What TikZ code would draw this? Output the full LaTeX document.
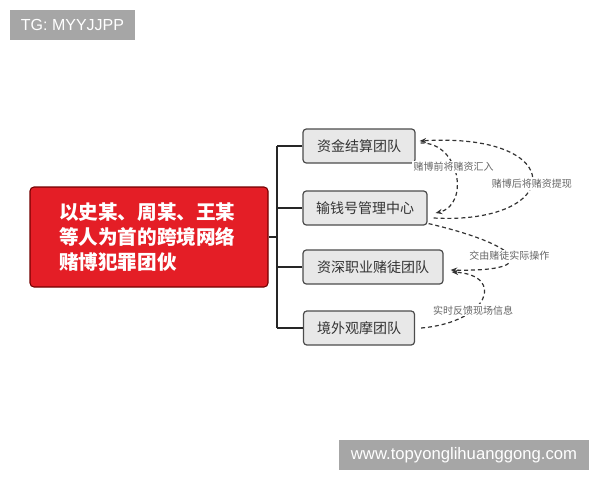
\documentclass[tikz,border=0pt]{standalone}
\usepackage{fontspec}
\setmainfont{Liberation Sans}
\newfontfamily\cjk{Noto Sans CJK SC}
\usetikzlibrary{arrows.meta}
\definecolor{gangred}{RGB}{228,30,38}

\begin{document}
\begin{tikzpicture}[x=0.75pt, y=-0.75pt,
  wmbox/.style={fill=black!35, text=white, inner sep=0pt, minimum height=22.5pt},
  gang/.style={draw=red!45!black, fill=gangred, rounded corners=3pt, line width=0.8pt, inner sep=0pt, text=white, font=\cjk\bfseries\fontsize{14.7}{18.75}\selectfont},
  team/.style={draw=black!70, fill=black!9, rounded corners=2.5pt, line width=0.9pt, inner sep=0pt, minimum height=25.5pt, text=black!80, font=\cjk\fontsize{10.5}{12}\selectfont},
  trunk/.style={draw=black!85, line width=1.9pt},
  flow/.style={draw=black!80, dash pattern=on 3pt off 2.2pt, line width=0.9pt, -{Stealth[length=5pt,width=4pt]}},
  note/.style={fill=white, inner sep=1pt, text=black!60, font=\cjk\fontsize{7.5}{9}\selectfont}]
			\useasboundingbox (0,0) rectangle (600,480);

			\node[wmbox, minimum width=93.75pt, font=\fontsize{12}{14}\selectfont] (tg) at (72.5,25) {TG: MYYJJPP};
			\node[wmbox, minimum width=187.5pt, font=\fontsize{12.5}{14}\selectfont] (url) at (464,455) {www.topyonglihuanggong.com};

			\node[gang, minimum width=178.5pt, minimum height=75pt, text width=135pt, align=left] (core) at (149,237) {以史某、周某、王某\\等人为首的跨境网络\\赌博犯罪团伙};

			\node[team, minimum width=84pt] (b1) at (359,146) {资金结算团队};
			\node[team, minimum width=93pt] (b2) at (365,208) {输钱号管理中心};
			\node[team, minimum width=105pt] (b3) at (373,267) {资深职业赌徒团队};
			\node[team, minimum width=83.25pt] (b4) at (359,328) {境外观摩团队};

			\coordinate (top) at (277,146);
			\coordinate (bot) at (277,328);
			\draw[trunk] (top) -- (bot);
			\draw[trunk] (core.east) -- (core.east -| top);
			\foreach \b in {b1,b2,b3,b4}
				\draw[trunk] (\b.west) -- (\b.west -| top);

			\draw[flow] ([shift={(6,10)}]b2.east) .. controls (565,225) and (570,132) .. node[note, pos=0.46] (take) {赌博后将赌资提现} ([shift={(4,-5)}]b1.east);
			\draw[flow] ([shift={(5,-3)}]b1.east) .. controls (460,142) and (470,205) .. node[note, pos=0.42] (pay) {赌博前将赌资汇入} ([shift={(8,5)}]b2.east);
			\draw[flow] ([shift={(1,-2)}]b2.south east) .. controls (520,245) and (545,272) .. node[note] (play) {交由赌徒实际操作} ([shift={(7,3)}]b3.east);
			\draw[flow] ([shift={(6,0)}]b4.east) .. controls (490,322) and (505,275) .. node[note, pos=0.35] (feed) {实时反馈现场信息} ([shift={(8,5)}]b3.east);
		\end{tikzpicture}
\end{document}
